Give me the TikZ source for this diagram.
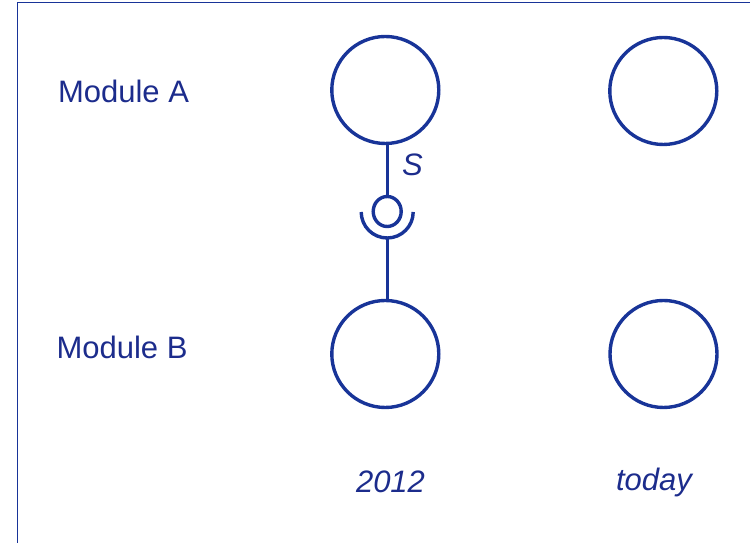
\documentclass[tikz,border=0pt]{standalone}
\usepackage{fontspec}
\setmainfont{Liberation Sans}
\usetikzlibrary{shapes.geometric}
\definecolor{ink}{RGB}{24,52,152}
\definecolor{txt}{RGB}{28,44,140}
\begin{document}
\begin{tikzpicture}[x=1bp,y=1bp,
  module/.style={circle,draw=ink,line width=3.4bp,minimum size=107bp,inner sep=0pt},
  wire/.style={draw=ink,line width=3.4bp},
  lbl/.style={text=txt,anchor=base,inner sep=0pt,font=\fontsize{31bp}{37bp}\selectfont},
  ilbl/.style={lbl,font=\fontsize{31bp}{37bp}\selectfont\itshape}]
\useasboundingbox (0,0) rectangle (750,543);
\clip (0,0) rectangle (750,543);
% outer frame (runs off the right and bottom edges)
\draw[ink,line width=1.5bp] (17.5,-20) -- (17.5,540.5) -- (770,540.5);

% modules
\node[module] (A1) at (385.3,453) {};
\node[module] (A2) at (663.3,452) {};
\node[module] (B1) at (385.3,189) {};
\node[module] (B2) at (663.5,189) {};

% ball-and-socket connector
\node[ellipse,draw=ink,line width=3.4bp,minimum width=28bp,minimum height=30bp,inner sep=0pt] (ball) at (387.2,331.5) {};
\coordinate (sock) at (387.2,331);
\coordinate (sockbot) at (387.2,305);
\draw[wire] (ball.north |- A1.south) -- (ball.north);
\draw[wire] ([xshift=-26bp]sock) arc[start angle=180,end angle=360,radius=26bp];
\draw[wire] (sockbot) -- (sockbot |- B1.north);

% labels
\node[lbl] (la) at (123.5,440) {Module A};
\node[lbl] (lb) at (122,184.5) {Module B};
\node[ilbl] (s) at (412.5,367) {S};
\node[ilbl] (y1) at (390.5,50) {2012};
\node[ilbl] (y2) at (654,52) {today};
\end{tikzpicture}
\end{document}
